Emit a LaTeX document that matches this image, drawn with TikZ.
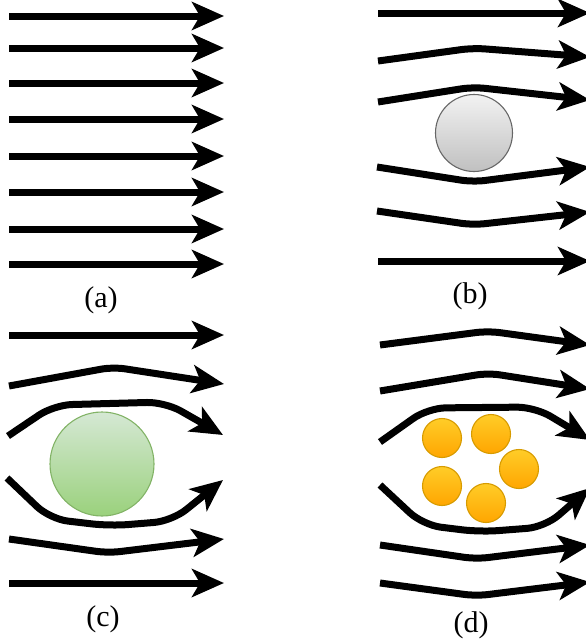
\documentclass[tikz,border=0pt]{standalone}
\usepackage{fontspec}
\setmainfont{Liberation Serif}
\usetikzlibrary{arrows.meta}
\definecolor{grayTop}{HTML}{F2F2F2}
\definecolor{grayBot}{HTML}{C0C0C0}
\definecolor{grayLine}{HTML}{666666}
\definecolor{greenTop}{HTML}{D5E8D4}
\definecolor{greenBot}{HTML}{9AD17C}
\definecolor{greenLine}{HTML}{82B366}
\definecolor{orangeTop}{HTML}{FFCD28}
\definecolor{orangeBot}{HTML}{FFA500}
\definecolor{orangeLine}{HTML}{D79B00}
\tikzset{
  flow/.style={line width=7pt, line join=round, rounded corners=12pt,
    -{Stealth[length=32pt,width=28pt,inset=8pt]}},
  ball/.style={circle, inner sep=0pt, line width=1.1pt},
  graybal/.style={ball, minimum size=77pt, draw=grayLine, top color=grayTop, bottom color=grayBot},
  greenbal/.style={ball, minimum size=104pt, draw=greenLine, top color=greenTop, bottom color=greenBot},
  orangebal/.style={ball, minimum size=39pt, draw=orangeLine, top color=orangeTop, bottom color=orangeBot},
  caption/.style={font=\fontsize{30pt}{34pt}\selectfont, inner sep=0pt}
}
\begin{document}
\begin{tikzpicture}[x=1pt,y=-1pt]
\useasboundingbox (0,0) rectangle (586,640);
% (a)
\foreach \y in {16,48,83,119,156,192,229,264}
  \draw[flow] (9,\y) -- (224,\y);
\node[caption] (la) at (101,300) {(a)};
% (b)
\node[graybal] (gb) at (474,133) {};
\draw[flow] (378,13) -- (590,13);
\draw[flow] (378,61) -- (473,48) -- (590,57);
\draw[flow] (378,102) -- (473,87) -- (590,100);
\draw[flow] (377,167) -- (473,182) -- (590,167);
\draw[flow] (377,211) -- (473,225) -- (590,212);
\draw[flow] (378,261) -- (590,261);
\node[caption] (lb) at (470,296) {(b)};
% (c)
\node[greenbal] (gc) at (102,464) {};
\draw[flow] (9,335) -- (224,335);
\draw[flow] (9,386) -- (113,367) -- (224,384);
\draw[flow,rounded corners=18pt] (8,436) -- (54,405) -- (165,402) -- (223,435);
\draw[flow,rounded corners=18pt] (7,478) -- (50,519) -- (110,526) -- (172,521) -- (223,480);
\draw[flow] (9,539) -- (108,553) -- (224,539);
\draw[flow] (9,583) -- (224,583);
\node[caption] (lc) at (103,619) {(c)};
% (d)
\node[orangebal] (o1) at (442,438) {};
\node[orangebal] (o2) at (491,434) {};
\node[orangebal] (o3) at (519,469) {};
\node[orangebal] (o4) at (442,486) {};
\node[orangebal] (o5) at (486,503) {};
\draw[flow] (380,345) -- (488,331) -- (590,345);
\draw[flow] (380,391) -- (488,373) -- (590,389);
\draw[flow,rounded corners=18pt] (380,442) -- (428,408) -- (535,407) -- (590,440);
\draw[flow,rounded corners=18pt] (380,485) -- (423,525) -- (480,532) -- (545,527) -- (590,488);
\draw[flow] (380,545) -- (476,559) -- (590,545);
\draw[flow] (380,583) -- (476,596) -- (590,582);
\node[caption] (ld) at (471,625) {(d)};
\end{tikzpicture}
\end{document}
